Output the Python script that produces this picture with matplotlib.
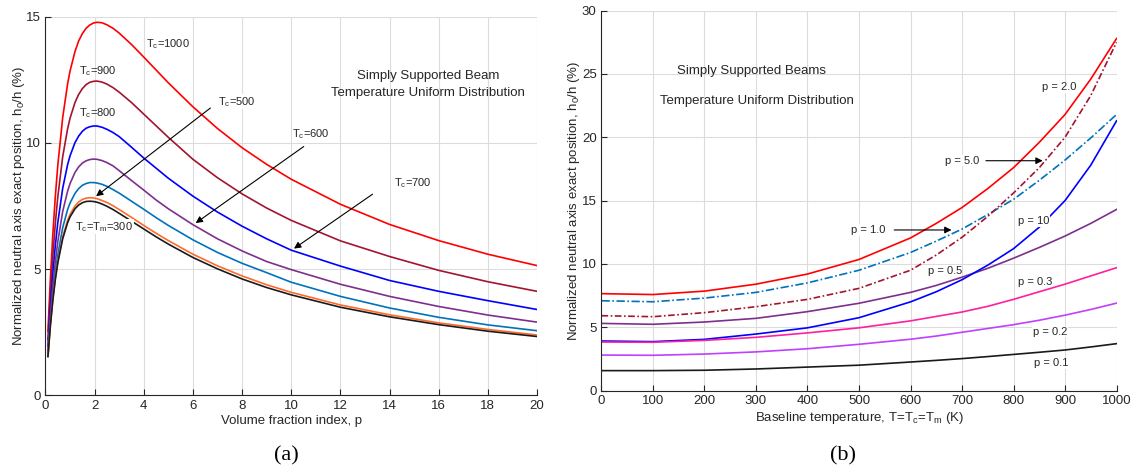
import numpy as np
import matplotlib.pyplot as plt

plt.rcParams['font.family'] = ['Liberation Sans', 'DejaVu Sans']
plt.rcParams['mathtext.default'] = 'regular'

# ---- panel (a): h0/h vs volume fraction index p ----
p = [0.1, 0.2, 0.3, 0.4, 0.5, 0.7, 0.9, 1.0, 1.2, 1.35, 1.5, 1.65, 1.8, 1.95, 2.1,
     2.3, 2.5, 2.75, 3, 3.5, 4, 4.5, 5, 6, 7, 8, 9, 10, 12, 14, 16, 18, 20]
h_1000 = [2.53, 4.64, 6.40, 7.87, 9.10, 11.00, 12.34, 12.85, 13.62, 14.04, 14.33, 14.54,
          14.67, 14.75, 14.78, 14.76, 14.68, 14.54, 14.35, 13.90, 13.40, 12.89, 12.38,
          11.43, 10.57, 9.81, 9.15, 8.56, 7.57, 6.77, 6.13, 5.59, 5.14]
h_900 = [2.21, 4.03, 5.55, 6.80, 7.85, 9.45, 10.56, 10.98, 11.60, 11.92, 12.15, 12.31,
         12.40, 12.44, 12.45, 12.41, 12.33, 12.19, 12.01, 11.60, 11.14, 10.68, 10.22,
         9.35, 8.62, 7.98, 7.42, 6.93, 6.12, 5.50, 4.95, 4.50, 4.12]
h_800 = [1.94, 3.53, 4.84, 5.93, 6.83, 8.20, 9.14, 9.49, 10.01, 10.27, 10.46, 10.58,
         10.64, 10.67, 10.67, 10.62, 10.54, 10.41, 10.25, 9.83, 9.40, 9.00, 8.60,
         7.89, 7.26, 6.70, 6.20, 5.75, 5.12, 4.55, 4.12, 3.75, 3.40]
h_700 = [1.74, 3.16, 4.33, 5.29, 6.08, 7.28, 8.09, 8.39, 8.83, 9.05, 9.20, 9.29,
         9.34, 9.36, 9.35, 9.30, 9.22, 9.09, 8.90, 8.51, 8.13, 7.74, 7.39, 6.76,
         6.20, 5.72, 5.30, 4.98, 4.40, 3.92, 3.52, 3.18, 2.90]
h_600 = [1.60, 2.91, 3.97, 4.85, 5.56, 6.64, 7.36, 7.62, 8.00, 8.19, 8.32, 8.39,
         8.43, 8.43, 8.41, 8.36, 8.28, 8.15, 8.01, 7.69, 7.37, 7.04, 6.73, 6.16,
         5.66, 5.23, 4.86, 4.48, 3.92, 3.46, 3.09, 2.79, 2.56]
h_500 = [1.55, 2.79, 3.81, 4.63, 5.30, 6.28, 6.93, 7.17, 7.50, 7.66, 7.76, 7.81,
         7.83, 7.82, 7.79, 7.72, 7.64, 7.51, 7.36, 7.05, 6.73, 6.42, 6.13, 5.59,
         5.13, 4.73, 4.38, 4.08, 3.58, 3.19, 2.87, 2.61, 2.39]
h_300 = [1.53, 2.77, 3.77, 4.58, 5.24, 6.20, 6.84, 7.07, 7.39, 7.54, 7.63, 7.68,
         7.69, 7.68, 7.65, 7.58, 7.49, 7.36, 7.21, 6.90, 6.59, 6.28, 5.99, 5.46,
         5.01, 4.61, 4.27, 3.98, 3.49, 3.11, 2.80, 2.54, 2.33]

# ---- panel (b): h0/h vs baseline temperature ----
T = [0, 100, 200, 300, 400, 500, 600, 650, 700, 750, 800, 850, 900, 950, 1000]
b_p20 = [7.65, 7.58, 7.85, 8.40, 9.20, 10.35, 12.05, 13.20, 14.45, 15.95, 17.60, 19.60, 21.80, 24.60, 27.80]
b_p10f = [7.09, 7.01, 7.30, 7.75, 8.50, 9.50, 10.90, 11.80, 12.75, 13.90, 15.10, 16.60, 18.20, 19.95, 21.80]
b_p50 = [5.91, 5.83, 6.15, 6.62, 7.20, 8.07, 9.50, 10.70, 12.10, 13.75, 15.60, 17.60, 20.00, 23.30, 27.50]
b_p05 = [5.30, 5.23, 5.41, 5.70, 6.23, 6.89, 7.75, 8.30, 8.95, 9.65, 10.45, 11.30, 12.20, 13.20, 14.30]
b_p10 = [3.91, 3.86, 4.04, 4.46, 4.95, 5.75, 7.00, 7.80, 8.75, 9.90, 11.20, 12.90, 15.00, 17.80, 21.30]
b_p03 = [3.83, 3.81, 3.96, 4.20, 4.55, 4.95, 5.50, 5.85, 6.20, 6.65, 7.20, 7.80, 8.40, 9.05, 9.70]
b_p02 = [2.80, 2.78, 2.88, 3.05, 3.30, 3.65, 4.05, 4.30, 4.60, 4.90, 5.20, 5.55, 5.95, 6.40, 6.90]
b_p01 = [1.57, 1.57, 1.60, 1.70, 1.85, 2.00, 2.25, 2.38, 2.52, 2.68, 2.85, 3.02, 3.20, 3.44, 3.70]

txt = '#262626'
ylab = 'Normalized neutral axis exact position, h$_0$/h (%)'


def style(ax):
    ax.grid(True, color='#dcdcdc', linewidth=0.8)
    ax.set_axisbelow(True)
    for s in ['top', 'right']:
        ax.spines[s].set_visible(False)
    for s in ['left', 'bottom']:
        ax.spines[s].set_color(txt)
        ax.spines[s].set_linewidth(0.8)
    ax.tick_params(direction='in', length=4, width=0.8, colors=txt, labelsize=9.5)


fig = plt.figure(figsize=(11.37, 4.71), dpi=100)
ax1 = fig.add_axes([0.0400, 0.1607, 0.4323, 0.8038])
ax2 = fig.add_axes([0.5290, 0.1709, 0.4530, 0.8064])

lw = 1.2
ax1.plot(p, h_1000, color='#ff0000', lw=lw)
ax1.plot(p, h_900, color='#a2142f', lw=lw)
ax1.plot(p, h_800, color='#0000ff', lw=lw)
ax1.plot(p, h_700, color='#7e2f8e', lw=lw)
ax1.plot(p, h_600, color='#0072bd', lw=lw)
ax1.plot(p, h_500, color='#ff6a2a', lw=lw)
ax1.plot(p, h_300, color='#1a1a1a', lw=lw)
ax1.set_xlim(0, 20)
ax1.set_ylim(0, 15)
ax1.set_xticks(np.arange(0, 21, 2))
ax1.set_yticks([0, 5, 10, 15])
style(ax1)
ax1.set_xlabel('Volume fraction index, p', fontsize=9.5, color=txt, labelpad=2)
ax1.set_ylabel(ylab, fontsize=9.5, color=txt, labelpad=-1)

wb = dict(facecolor='white', edgecolor='none', pad=0.5)
fs = 8
ax1.text(4.1, 13.9, 'T$_c$=1000', fontsize=fs, color=txt, va='center', bbox=wb)
ax1.text(1.38, 12.85, 'T$_c$=900', fontsize=fs, color=txt, va='center')
ax1.text(1.35, 11.2, 'T$_c$=800', fontsize=fs, color=txt, va='center')
ax1.text(1.22, 6.68, 'T$_c$=T$_m$=300', fontsize=fs, color=txt, va='center', bbox=wb)
ax1.text(7.0, 11.63, 'T$_c$=500', fontsize=fs, color=txt, va='center', bbox=wb)
ax1.text(10.05, 10.34, 'T$_c$=600', fontsize=fs, color=txt, va='center', bbox=wb)
ax1.text(14.2, 8.42, 'T$_c$=700', fontsize=fs, color=txt, va='center', bbox=wb)
arr = dict(arrowstyle='-|>', color='black', lw=0.8, mutation_scale=10)
ax1.annotate('', xy=(1.97, 7.82), xytext=(6.8, 11.45), arrowprops=arr)
ax1.annotate('', xy=(6.02, 6.76), xytext=(10.6, 9.92), arrowprops=arr)
ax1.annotate('', xy=(10.02, 5.75), xytext=(13.4, 8.03), arrowprops=arr)
ax1.text(15.57, 12.65, 'Simply Supported Beam', fontsize=9.5, color=txt, ha='center', va='center')
ax1.text(15.57, 11.98, 'Temperature Uniform Distribution', fontsize=9.5, color=txt,
         ha='center', va='center')

ax2.plot(T, b_p20, color='#ff0000', lw=lw)
ax2.plot(T, b_p10f, color='#0072bd', lw=lw, ls=(0, (5, 1.5, 1, 1.5)))
ax2.plot(T, b_p50, color='#a2142f', lw=lw, ls=(0, (4, 1.5, 1, 1.5)))
ax2.plot(T, b_p05, color='#7e2f8e', lw=lw)
ax2.plot(T, b_p10, color='#0000ff', lw=lw)
ax2.plot(T, b_p03, color='#ff1fa0', lw=lw)
ax2.plot(T, b_p02, color='#bf40ff', lw=lw)
ax2.plot(T, b_p01, color='#1a1a1a', lw=lw)
ax2.set_xlim(0, 1000)
ax2.set_ylim(0, 30)
ax2.set_xticks(np.arange(0, 1001, 100))
ax2.set_yticks(np.arange(0, 31, 5))
style(ax2)
ax2.set_xlabel('Baseline temperature, T=T$_c$=T$_m$ (K)', fontsize=9.5, color=txt, labelpad=2)
ax2.set_ylabel(ylab, fontsize=9.5, color=txt, labelpad=0)

ax2.text(292, 25.2, 'Simply Supported Beams', fontsize=9.5, color=txt, ha='center', va='center')
ax2.text(302, 22.9, 'Temperature Uniform Distribution', fontsize=9.5, color=txt,
         ha='center', va='center')
ax2.text(855, 23.95, 'p = 2.0', fontsize=fs, color=txt, va='center', bbox=wb)
ax2.text(667, 18.15, 'p = 5.0', fontsize=fs, color=txt, va='center', bbox=wb)
ax2.text(484, 12.68, 'p = 1.0', fontsize=fs, color=txt, va='center', bbox=wb)
ax2.text(809, 13.4, 'p = 10', fontsize=fs, color=txt, va='center', bbox=wb)
ax2.text(633, 9.47, 'p = 0.5', fontsize=fs, color=txt, va='center', bbox=wb)
ax2.text(808, 8.6, 'p = 0.3', fontsize=fs, color=txt, va='center', bbox=wb)
ax2.text(837, 4.65, 'p = 0.2', fontsize=fs, color=txt, va='center', bbox=wb)
ax2.text(840, 2.15, 'p = 0.1', fontsize=fs, color=txt, va='center', bbox=wb)
ax2.annotate('', xy=(862, 18.15), xytext=(741, 18.15), arrowprops=arr)
ax2.annotate('', xy=(685, 12.68), xytext=(563, 12.68), arrowprops=arr)

fig.text(0.2515, 0.032, '(a)', fontsize=16, family='Liberation Serif', ha='center', va='center')
fig.text(0.7415, 0.032, '(b)', fontsize=16, family='Liberation Serif', ha='center', va='center')

fig.savefig('out.png', dpi=100)
